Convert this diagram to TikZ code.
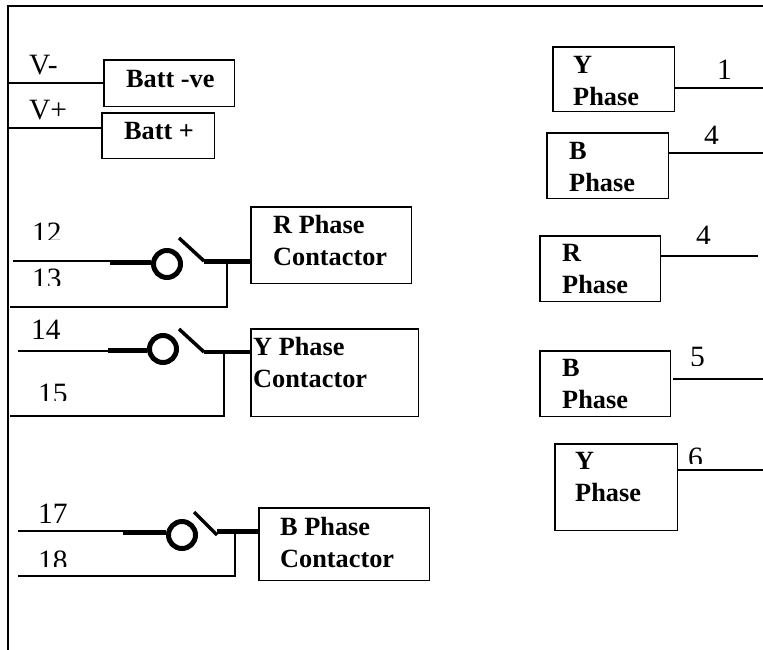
\documentclass[tikz,border=0pt]{standalone}
\usepackage{fontspec}
\setmainfont{Liberation Serif}
\tikzset{
  boxn/.style={draw=black,line width=1.5pt,inner sep=0pt,anchor=center},
  thin wire/.style={draw=black,line width=1.4pt},
  thick wire/.style={draw=black,line width=5pt},
  frame wire/.style={draw=black,line width=2pt},
  coil/.style={circle,draw=black,line width=5pt,inner sep=0pt,minimum size=27pt},
  title/.style={font=\fontsize{26.3}{31.5}\selectfont\bfseries,align=left,inner sep=0pt,anchor=base west},
  num/.style={font=\fontsize{29.5}{32}\selectfont,inner sep=0pt,anchor=base west}
}
% name, x1, y1, x2, y2 (outer edges of the outline)
\newcommand{\mybox}[5]{\node[boxn,minimum width=#4pt-#2pt+0.5pt,minimum height=#5pt-#3pt+0.5pt] (#1) at ({(#2+#4)/2+0.25},{(#3+#5)/2+0.25}) {};}
% name, x, top of digit, clip y, text
\newcommand{\cutnum}[5]{\begin{scope}\clip (#2-5,#3-10) rectangle (#2+40,#4);\node[num] (#1) at (#2,#3+19.7) {#5};\end{scope}}
\begin{document}
\begin{tikzpicture}[x=1pt,y=-1pt]
\useasboundingbox (0,0) rectangle (763,649);
% frame
\coordinate (fb) at (8,649); \coordinate (ftl) at (8,6); \coordinate (ftr) at (763,6);
\draw[frame wire,line cap=rect] (fb) -- (ftl) -- (ftr);
% battery
\mybox{bn}{104}{60}{234}{106}
\mybox{bp}{102}{113}{214}{158}
\node[title] (tbn) at (126,87) {Batt -ve};
\node[title] (tbp) at (124,139) {Batt +};
\coordinate (vn) at (8,83); \coordinate (vp) at (8,128);
\draw[thin wire] (vn) -- (vn -| bn.west);
\draw[thin wire] (vp) -- (vp -| bp.west);
\node[num] (lvn) at (29,74) {V-};
\node[num] (lvp) at (29,119) {V+};
% contactors
\mybox{rc}{251}{207}{411}{283}
\mybox{yc}{251}{329}{418}{416}
\mybox{bc}{259}{508}{429}{580}
\node[title] (trc) at (273,265) {R Phase\\Contactor};
\node[title] (tyc) at (253,387) {Y Phase\\Contactor};
\node[title] (tbc) at (280,567) {B Phase\\Contactor};
% R branch
\node[coil] (c1) at (167,264) {};
\coordinate (r0) at (13,261); \coordinate (r1) at (110,261);
\coordinate (r2) at (179,238); \coordinate (r3) at (204,261); \coordinate (r4) at (227,261);
\coordinate (r5) at (227,307); \coordinate (r6) at (10,307);
\draw[thin wire] (r0) -- (r1);
\draw[thick wire] (r1 |- 0,262) -- (c1.west |- 0,262);
\draw[line width=3.5pt] (r2) -- (r3);
\draw[thick wire] (r3) -- (r3 -| rc.west);
\draw[thin wire] (r4) -- (r5) -- (r6);
% Y branch
\node[coil] (c2) at (163,349) {};
\coordinate (y0) at (18,351); \coordinate (y1) at (108,351);
\coordinate (y2) at (179,329); \coordinate (y3) at (204,352); \coordinate (y4) at (224,352);
\coordinate (y5) at (224,416); \coordinate (y6) at (10,416);
\draw[thin wire] (y0) -- (y1);
\draw[thick wire] (y1 |- 0,350) -- (c2.west |- 0,350);
\draw[line width=3.5pt] (y2) -- (y3);
\draw[thick wire,line width=4pt] (y3) -- (y3 -| yc.west);
\draw[thin wire] (y4) -- (y5) -- (y6);
% B branch
\node[coil] (c3) at (182,535) {};
\coordinate (b0) at (18,531); \coordinate (b1) at (123,531);
\coordinate (b2) at (194,512); \coordinate (b3) at (217,535); \coordinate (b4) at (235,532);
\coordinate (b5) at (235,576); \coordinate (b6) at (18,576);
\draw[thin wire] (b0) -- (b1);
\draw[thick wire] (b1 |- 0,532) -- (c3.west |- 0,532);
\draw[line width=3.5pt] (b2) -- (b3);
\draw[thick wire] (b3 |- 0,531.5) -- (bc.west |- 0,531.5);
\draw[thin wire] (b4) -- (b5) -- (b6);
% left numbers
\cutnum{n12}{32}{223}{239}{12}
\cutnum{n13}{32}{269}{285}{13}
\cutnum{n14}{31}{320}{338}{14}
\cutnum{n15}{38}{384}{400}{15}
\cutnum{n17}{38}{504}{522}{17}
\cutnum{n18}{38}{551}{566}{18}
% phases
\mybox{p1}{553}{47}{674}{111}
\mybox{p2}{547}{133}{668}{198}
\mybox{p3}{540}{236}{660}{301}
\mybox{p4}{540}{351}{670}{416}
\mybox{p5}{555}{444}{677}{530}
\node[title] (t1) at (573,105) {Y\\Phase};
\node[title] (t2) at (569,191) {B\\Phase};
\node[title] (t3) at (562,293) {R\\Phase};
\node[title] (t4) at (562,408) {B\\Phase};
\node[title] (t5) at (575,501) {Y\\Phase};
\coordinate (e1) at (763,88); \coordinate (e2) at (763,153); \coordinate (e3) at (758,256);
\coordinate (e4a) at (673,379); \coordinate (e4) at (763,379); \coordinate (e5) at (763,470);
\draw[thin wire] (p1.east |- e1) -- (e1);
\draw[thin wire] (p2.east |- e2) -- (e2);
\draw[thin wire] (p3.east |- e3) -- (e3);
\draw[thin wire] (e4a) -- (e4);
\draw[thin wire] (p5.east |- e5) -- (e5);
\cutnum{m1}{717}{60}{78}{1}
\cutnum{m2}{704}{126}{143}{4}
\cutnum{m3}{696}{226}{243}{4}
\cutnum{m4}{690}{347}{365}{5}
\cutnum{m5}{688}{448}{463}{6}
\end{tikzpicture}
\end{document}
